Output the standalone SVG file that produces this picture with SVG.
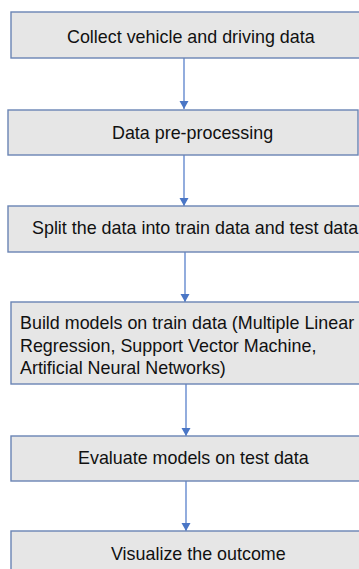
<svg xmlns="http://www.w3.org/2000/svg" width="359" height="569" viewBox="0 0 359 569">
<style>
.box{fill:#e6e6e6;stroke:#6a84b4;stroke-width:1.4}
.t{font-family:"Liberation Sans",Arial,sans-serif;font-size:17.9px;fill:#111}
.c{stroke:#4a76c6;stroke-width:1.2;fill:none;marker-end:url(#ah)}
</style>
<defs>
<marker id="ah" markerUnits="userSpaceOnUse" markerWidth="10" markerHeight="10" refX="8" refY="4.5" orient="auto">
<path d="M0,0 L8,4.5 L0,9 Z" fill="#4a76c6"/>
</marker>
</defs>
<rect width="359" height="569" fill="#fff"/>
<g id="connectors">
<line class="c" x1="184" y1="58" x2="184" y2="109"/>
<line class="c" x1="184" y1="155" x2="184" y2="206"/>
<line class="c" x1="185" y1="252" x2="185" y2="302"/>
<line class="c" x1="186" y1="384" x2="186" y2="436"/>
<line class="c" x1="186" y1="481" x2="186" y2="531"/>
</g>
<g id="n1">
<rect class="box" x="11" y="12" width="358" height="46"/>
<text class="t" x="67" y="43">Collect vehicle and driving data</text>
</g>
<g id="n2">
<rect class="box" x="8" y="110" width="350" height="45"/>
<text class="t" x="112" y="139">Data pre-processing</text>
</g>
<g id="n3">
<rect class="box" x="8" y="206" width="360" height="46"/>
<text class="t" x="32" y="234">Split the data into train data and test data</text>
</g>
<g id="n4">
<rect class="box" x="11" y="302" width="358" height="82"/>
<text class="t" x="20" y="329">Build models on train data (Multiple Linear</text>
<text class="t" x="20" y="352">Regression, Support Vector Machine,</text>
<text class="t" x="20" y="374">Artificial Neural Networks)</text>
</g>
<g id="n5">
<rect class="box" x="11" y="436" width="358" height="45"/>
<text class="t" x="78" y="464">Evaluate models on test data</text>
</g>
<g id="n6">
<rect class="box" x="11" y="531" width="358" height="48"/>
<text class="t" x="111" y="560">Visualize the outcome</text>
</g>
</svg>
